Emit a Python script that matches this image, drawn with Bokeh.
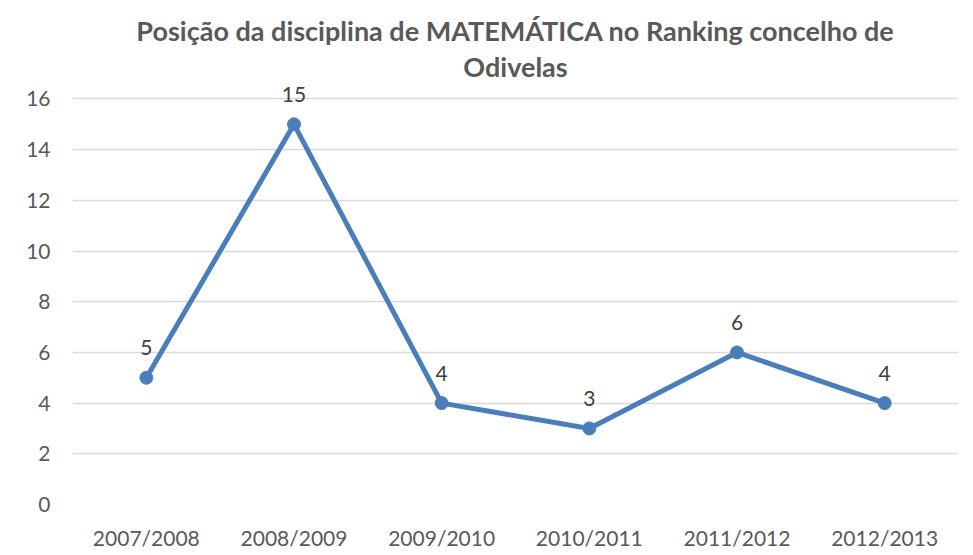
from bokeh.plotting import figure
from bokeh.models import ColumnDataSource, Range1d, Title, LabelSet, FixedTicker
from bokeh.core.properties import value
from bokeh.embed import file_html
from bokeh.resources import INLINE

years = ["2007/2008", "2008/2009", "2009/2010", "2010/2011", "2011/2012", "2012/2013"]
positions = [5, 15, 4, 3, 6, 4]
y_ticks = [0, 2, 4, 6, 8, 10, 12, 14, 16]
title_line1 = "Posição da disciplina de MATEMÁTICA no Ranking concelho de"
title_line2 = "Odivelas"

src = ColumnDataSource(dict(x=years, y=positions, lbl=[str(v) for v in positions]))

# frame top slightly above 16 so the data label "15" is not clipped
p = figure(x_range=years, y_range=Range1d(0, 16.65), width=958, height=552,
           output_backend="svg", toolbar_location=None, title=None,
           min_border_left=72, min_border_right=0, min_border_top=82, min_border_bottom=46)

FONT = "Lato"
TXT = "#595959"

p.add_layout(Title(text=title_line2, align="center", text_font=FONT, text_font_size="27px",
                   text_font_style="bold", text_color=TXT, standoff=0), "above")
p.add_layout(Title(text=title_line1, align="center", text_font=FONT, text_font_size="27px",
                   text_font_style="bold", text_color=TXT, standoff=2), "above")

p.line("x", "y", source=src, line_color="#4a7ebb", line_width=5)
p.scatter("x", "y", source=src, size=13, fill_color="#4a7ebb", line_color="#4a7ebb")

labels = LabelSet(x="x", y="y", text="lbl", source=src, y_offset=30, text_align="center",
                  text_baseline="middle", text_font=value(FONT), text_font_size=value("21px"),
                  text_color="#404040")
p.add_layout(labels)

p.outline_line_color = None
p.xgrid.grid_line_color = None
p.ygrid.grid_line_color = "#d9d9d9"
p.ygrid.grid_line_width = 1.5
p.yaxis.ticker = FixedTicker(ticks=y_ticks)
for ax in (p.xaxis, p.yaxis):
    ax.axis_line_color = None
    ax.major_tick_line_color = None
    ax.minor_tick_line_color = None
    ax.major_tick_out = 0
    ax.major_tick_in = 0
    ax.major_label_text_font = FONT
    ax.major_label_text_font_size = "21px"
    ax.major_label_text_color = TXT
p.yaxis.major_label_standoff = 22
p.xaxis.major_label_standoff = 20

open("out.html", "w").write(file_html(p, INLINE))
